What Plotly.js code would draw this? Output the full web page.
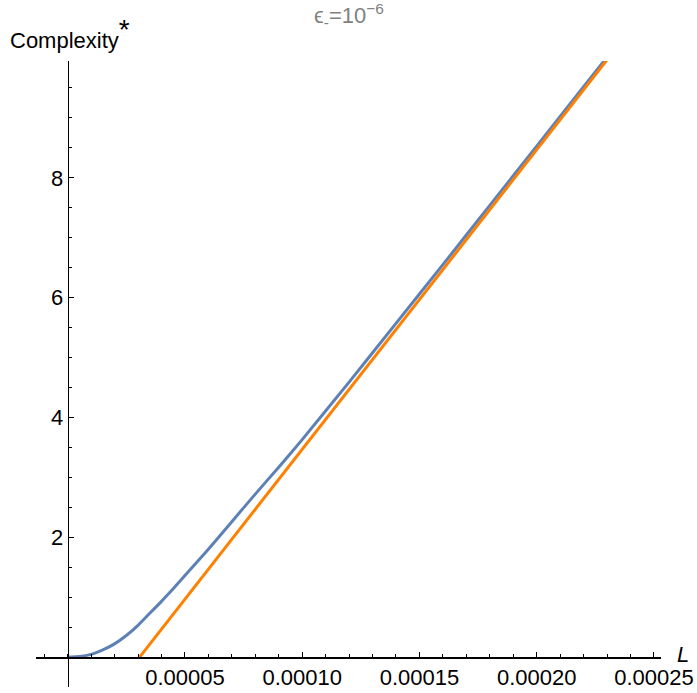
<!DOCTYPE html>
<html>
<head>
<meta charset="utf-8">
<script src="https://cdn.plot.ly/plotly-3.0.1.min.js"></script>
<style>html,body{margin:0;padding:0;background:#fff;}#chart{width:697px;height:693px;}</style>
</head>
<body>
<div id="chart"></div>
<script>
// Blue curve (Complexity*)
const blueL = [0, 0.000005, 0.00001, 0.000015, 0.00002, 0.000025, 0.00003, 0.000035, 0.00004, 0.000045, 0.00005, 0.00006, 0.00007, 0.00008, 0.00009, 0.0001, 0.00012, 0.00014, 0.00016, 0.00018, 0.0002, 0.00022, 0.00024];
const blueC = [0, 0.01, 0.045, 0.12, 0.22, 0.36, 0.53, 0.73, 0.93, 1.14, 1.36, 1.80, 2.26, 2.72, 3.17, 3.63, 4.59, 5.57, 6.55, 7.54, 8.53, 9.52, 10.51];
// Orange straight line (asymptote)
const orangeL = [0.0000307, 0.00008, 0.00013, 0.00018, 0.00024];
const orangeC = [0, 2.47, 4.97, 7.47, 10.47];
// Tick labels
const xTickVals = [0.00005, 0.0001, 0.00015, 0.0002, 0.00025];
const xTickText = ["0.00005", "0.00010", "0.00015", "0.00020", "0.00025"];
const yTickVals = [2, 4, 6, 8];
const yTickText = ["2", "4", "6", "8"];

const xRange = [-0.0000135, 0.000253];
const yRange = [-0.5, 9.95];
const fontFam = '"Liberation Sans", Arial, sans-serif';

const traces = [
  {x: blueL, y: blueC, mode: 'lines', line: {color: '#5E81B5', width: 3, shape: 'spline', smoothing: 0.5}, hoverinfo: 'skip'},
  {x: orangeL, y: orangeC, mode: 'lines', line: {color: '#FF8000', width: 3}, hoverinfo: 'skip'}
];

const layout = {
  width: 697, height: 693,
  margin: {l: 36, r: 36, t: 61, b: 6},
  paper_bgcolor: '#fff', plot_bgcolor: '#fff',
  showlegend: false,
  font: {family: fontFam, size: 22, color: '#000'},
  xaxis: {
    range: xRange, anchor: 'free',
    position: (0 - yRange[0]) / (yRange[1] - yRange[0]),
    showgrid: false, zeroline: false,
    showline: true, linecolor: '#000', linewidth: 1.6,
    tickmode: 'array', tickvals: xTickVals, ticktext: xTickText,
    ticks: 'inside', ticklen: 5, tickwidth: 1, tickcolor: '#000',
    minor: {tickmode: 'linear', tick0: 0, dtick: 0.00001, ticks: 'inside', ticklen: 3, tickwidth: 1, tickcolor: '#000'},
    tickfont: {family: fontFam, size: 22, color: '#000'}
  },
  yaxis: {
    range: yRange, anchor: 'free',
    position: (0 - xRange[0]) / (xRange[1] - xRange[0]),
    showgrid: false, zeroline: false,
    showline: true, linecolor: '#000', linewidth: 1.6,
    tickmode: 'array', tickvals: yTickVals, ticktext: yTickText,
    ticks: 'inside', ticklen: 5, tickwidth: 1, tickcolor: '#000',
    minor: {tickmode: 'linear', tick0: 0, dtick: 0.5, ticks: 'inside', ticklen: 3, tickwidth: 1, tickcolor: '#000'},
    tickfont: {family: fontFam, size: 22, color: '#000'}
  },
  annotations: [
    {text: 'ϵ<sub>-</sub>=10<sup>−6</sup>', xref: 'paper', yref: 'paper', x: 0.5, y: 1, xshift: 0, yshift: 46, xanchor: 'center', yanchor: 'middle', showarrow: false, font: {family: fontFam, size: 22, color: '#808080'}},
    {text: 'Complexity<sup><span style="font-size:28px">*</span></sup>', xref: 'paper', yref: 'paper', x: 0, y: 1, xshift: -28, yshift: 6, xanchor: 'left', yanchor: 'bottom', showarrow: false, font: {family: fontFam, size: 22, color: '#000'}},
    {text: '<i>L</i>', xref: 'paper', yref: 'y', x: 1, y: 0, xshift: 14, yshift: 3, xanchor: 'left', yanchor: 'middle', showarrow: false, font: {family: fontFam, size: 22, color: '#000'}}
  ]
};

Plotly.newPlot('chart', traces, layout, {displayModeBar: false, staticPlot: true});
</script>
</body>
</html>
